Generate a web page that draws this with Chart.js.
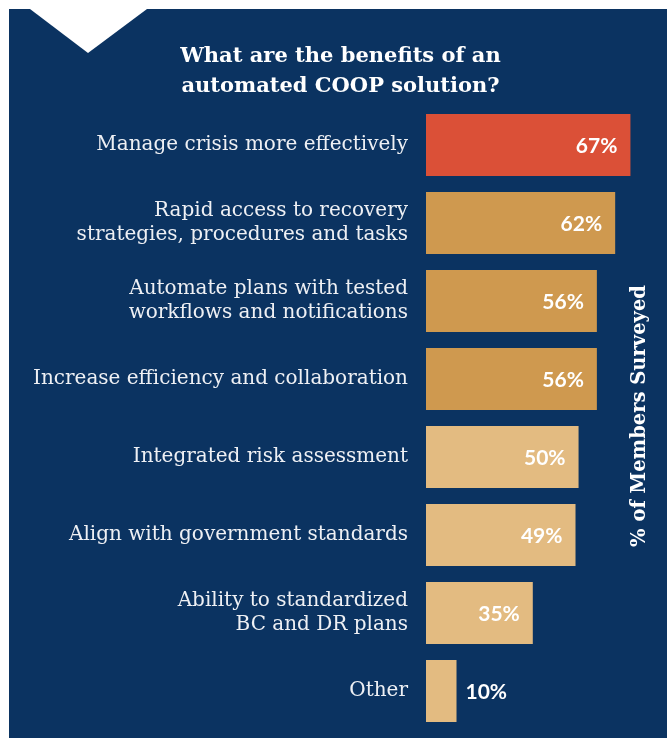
<!DOCTYPE html>
<html>
<head>
<meta charset="utf-8">
<script src="https://cdn.jsdelivr.net/npm/chart.js@4"></script>
<style>
html,body{margin:0;padding:0;background:#fff;}
#wrap{width:667px;height:738px;position:relative;}
</style>
</head>
<body>
<div id="wrap"><canvas id="c" width="667" height="738"></canvas></div>
<script>
const categories = [
  "Manage crisis more effectively",
  ["Rapid access to recovery", "strategies, procedures and tasks"],
  ["Automate plans with tested", "workflows and notifications"],
  "Increase efficiency and collaboration",
  "Integrated risk assessment",
  "Align with government standards",
  ["Ability to standardized", "BC and DR plans"],
  "Other"
];
const values = [67, 62, 56, 56, 50, 49, 35, 10];
const barColors = ["#db5037", "#cf994f", "#cf994f", "#cf994f", "#e3bb81", "#e3bb81", "#e3bb81", "#e3bb81"];
const titleLines = ["What are the benefits of an", "automated COOP solution?"];
const axisTitle = "% of Members Surveyed";

const NAVY = "#0b3361";

const bgPlugin = {
  id: "bg",
  beforeDraw(chart) {
    const ctx = chart.ctx;
    ctx.save();
    ctx.fillStyle = "#ffffff";
    ctx.fillRect(0, 0, chart.width, chart.height);
    ctx.fillStyle = NAVY;
    ctx.fillRect(9, 9, chart.width - 9, chart.height - 9);
    ctx.fillStyle = "#ffffff";
    ctx.beginPath();
    ctx.moveTo(30, 9);
    ctx.lineTo(147, 9);
    ctx.lineTo(88, 53);
    ctx.closePath();
    ctx.fill();
    ctx.restore();
  }
};

const valuePlugin = {
  id: "vals",
  afterDatasetsDraw(chart) {
    const ctx = chart.ctx;
    const meta = chart.getDatasetMeta(0);
    ctx.save();
    ctx.font = "bold 21px Lato";
    ctx.fillStyle = "#ffffff";
    ctx.textBaseline = "middle";
    meta.data.forEach((bar, i) => {
      const v = values[i];
      const txt = v + "%";
      if (v >= 20) {
        ctx.textAlign = "right";
        ctx.fillText(txt, bar.x - 13, bar.y + 1);
      } else {
        ctx.textAlign = "left";
        ctx.fillText(txt, bar.x + 9, bar.y + 1);
      }
    });
    // rotated axis title on the right
    ctx.translate(640, 416);
    ctx.rotate(-Math.PI / 2);
    ctx.textAlign = "center";
    ctx.textBaseline = "middle";
    ctx.font = "bold 19.5px 'DejaVu Serif'";
    ctx.fillText(axisTitle, 0, 0);
    ctx.restore();
  }
};

new Chart(document.getElementById("c"), {
  type: "bar",
  data: {
    labels: categories,
    datasets: [{
      data: values,
      backgroundColor: barColors,
      borderWidth: 0,
      barPercentage: 0.795,
      categoryPercentage: 1.0
    }]
  },
  options: {
    indexAxis: "y",
    responsive: false,
    animation: false,
    devicePixelRatio: 1,
    layout: { padding: { left: 17, right: 3, top: 0, bottom: 8 } },
    plugins: {
      legend: { display: false },
      tooltip: { enabled: false },
      title: {
        display: true,
        text: titleLines,
        color: "#ffffff",
        font: { family: "'DejaVu Serif'", weight: "bold", size: 21, lineHeight: 1.43 },
        padding: { top: 42, bottom: 4 }
      }
    },
    scales: {
      x: {
        display: false,
        min: 0,
        max: 78
      },
      y: {
        afterFit(scale) {
          scale.width = 409;
          scale.paddingTop = 0;
          scale.paddingBottom = 0;
        },
        grid: { display: false, drawTicks: false },
        border: { display: false },
        ticks: {
          color: "#eef0f4",
          padding: 18,
          font: { family: "'DejaVu Serif'", size: 20, lineHeight: 1.2 }
        }
      }
    }
  },
  plugins: [bgPlugin, valuePlugin]
});
</script>
</body>
</html>
